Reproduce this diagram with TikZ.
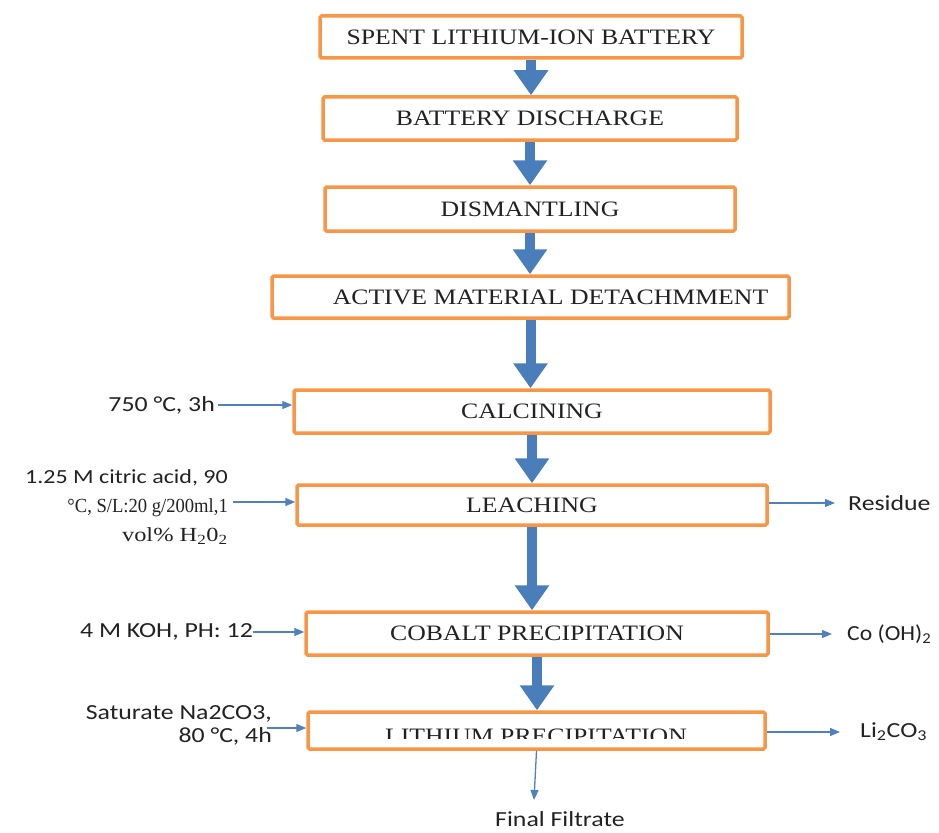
\documentclass[tikz,border=0pt]{standalone}
\usepackage{fontspec}
\setmainfont{Liberation Serif}
\newfontfamily\calib{Carlito}
\usetikzlibrary{arrows.meta}
\definecolor{boxorange}{HTML}{F79646}
\definecolor{bigblue}{HTML}{4A7EBB}
\definecolor{thinblue}{HTML}{4F81BD}
\definecolor{txt}{HTML}{222222}
\newcommand\tsx[1]{\scalebox{1.17}[1]{#1}}
\newcommand\csx[1]{\scalebox{1.2}[1]{#1}}
\tikzset{
  procbox/.style={draw=boxorange, line width=3.5pt, rounded corners=1.5pt, fill=white,
    inner sep=0pt, text=txt, font=\fontsize{22}{26}\selectfont},
  bigarrow/.style={draw=bigblue, line width=10pt, -{Triangle[width=33pt,length=25pt]}},
  thinarrow/.style={draw=thinblue, line width=1.3pt, -{Triangle[width=8pt,length=10pt]}},
  calab/.style={text=txt, font=\calib\fontsize{21.5}{25}\selectfont, inner sep=0pt},
}
\begin{document}
\begin{tikzpicture}[x=1pt,y=-1pt]
\useasboundingbox (0,0) rectangle (939,832);
% process boxes
\node[procbox, minimum width=422pt, minimum height=42pt] (b1) at (531,37) {\tsx{SPENT LITHIUM-ION BATTERY}};
\node[procbox, minimum width=414pt, minimum height=43pt] (b2) at (530,118.5) {\tsx{BATTERY DISCHARGE}};
\node[procbox, minimum width=410pt, minimum height=44pt] (b3) at (530,209) {\tsx{DISMANTLING}};
\node[procbox, minimum width=517pt, minimum height=42pt] (b4) at (530.5,297) {\hspace*{40pt}\tsx{ACTIVE MATERIAL DETACHMMENT}};
\node[procbox, minimum width=476pt, minimum height=43pt] (b5) at (532,411.5) {\tsx{CALCINING}};
\node[procbox, minimum width=470pt, minimum height=40pt] (b6) at (532,505) {\tsx{LEACHING}};
\node[procbox, minimum width=462pt, minimum height=43pt] (b7) at (537,633.5) {\tsx{COBALT PRECIPITATION}};
\node[procbox, minimum width=457pt, minimum height=37pt] (b8) at (536.5,730.5) {};
\begin{scope}
  \clip (320,714) rectangle (760,738);
  \node[text=txt, font=\fontsize{22}{26}\selectfont, inner sep=0pt] (t8) at (536,736) {\tsx{LITHIUM PRECIPITATION}};
\end{scope}
% thick arrows between steps
\draw[bigarrow] (b1.south) -- (b1.south |- b2.north);
\draw[bigarrow] (b2.south) -- (b2.south |- b3.north);
\draw[bigarrow] (b3.south) -- (b3.south |- b4.north);
\draw[bigarrow] (b4.south) -- (b4.south |- b5.north);
\draw[bigarrow] (b5.south) -- (b5.south |- b6.north);
\draw[bigarrow] (b6.south) -- (b6.south |- b7.north);
\draw[bigarrow] (b7.south) -- (b7.south |- b8.north);
% left inputs
\node[calab, anchor=east] (in5) at (215,405) {\csx{750 °C, 3h}};
\draw[thinarrow] (218,405) coordinate (s5) -- (s5 -| b5.west);
\node[anchor=east, inner sep=0pt, text=txt, align=right, font=\fontsize{20}{29}\selectfont] (in6) at (228,507)
  {\calib\csx{1.25 M citric acid, 90}\\
   \fontsize{20}{29}\selectfont\scalebox{0.93}[1]{°C, S/L:20 g/200ml,1}\\
   \fontsize{20}{29}\selectfont\scalebox{1.22}[1]{vol\% H\textsubscript{2}0\textsubscript{2}}};
\draw[thinarrow] (233,502) coordinate (s6) -- (s6 -| b6.west);
\node[calab, anchor=east] (in7) at (253,632) {\csx{4 M KOH, PH: 12}};
\draw[thinarrow] (in7.east |- 0,632) coordinate (s7) -- (s7 -| b7.west);
\node[calab, anchor=east, align=right] (in8) at (272,725) {\csx{Saturate Na2CO3,}\\[-2pt]\csx{80 °C, 4h}};
\draw[thinarrow] (267,728) coordinate (s8) -- (s8 -| b8.west);
% right outputs
\node[calab, anchor=west] (o6) at (848,503) {\csx{Residue}};
\draw[thinarrow] (b6.east |- o6) -- (835,503) coordinate (e6);
\node[calab, anchor=west] (o7) at (847,634) {\scalebox{1.1}[1]{Co (OH)\textsubscript{2}}};
\draw[thinarrow] (b7.east |- o7) -- (832,634) coordinate (e7);
\node[calab, anchor=west] (o8) at (860,732) {\csx{Li\textsubscript{2}CO\textsubscript{3}}};
\draw[thinarrow] (b8.east |- o8) -- (840,732) coordinate (e8);
% final filtrate
\node[calab] (ff) at (560,819) {\csx{Final Filtrate}};
\coordinate (fe) at (534,800);
\draw[thinarrow] (b8.south) -- (fe);
\end{tikzpicture}
\end{document}
